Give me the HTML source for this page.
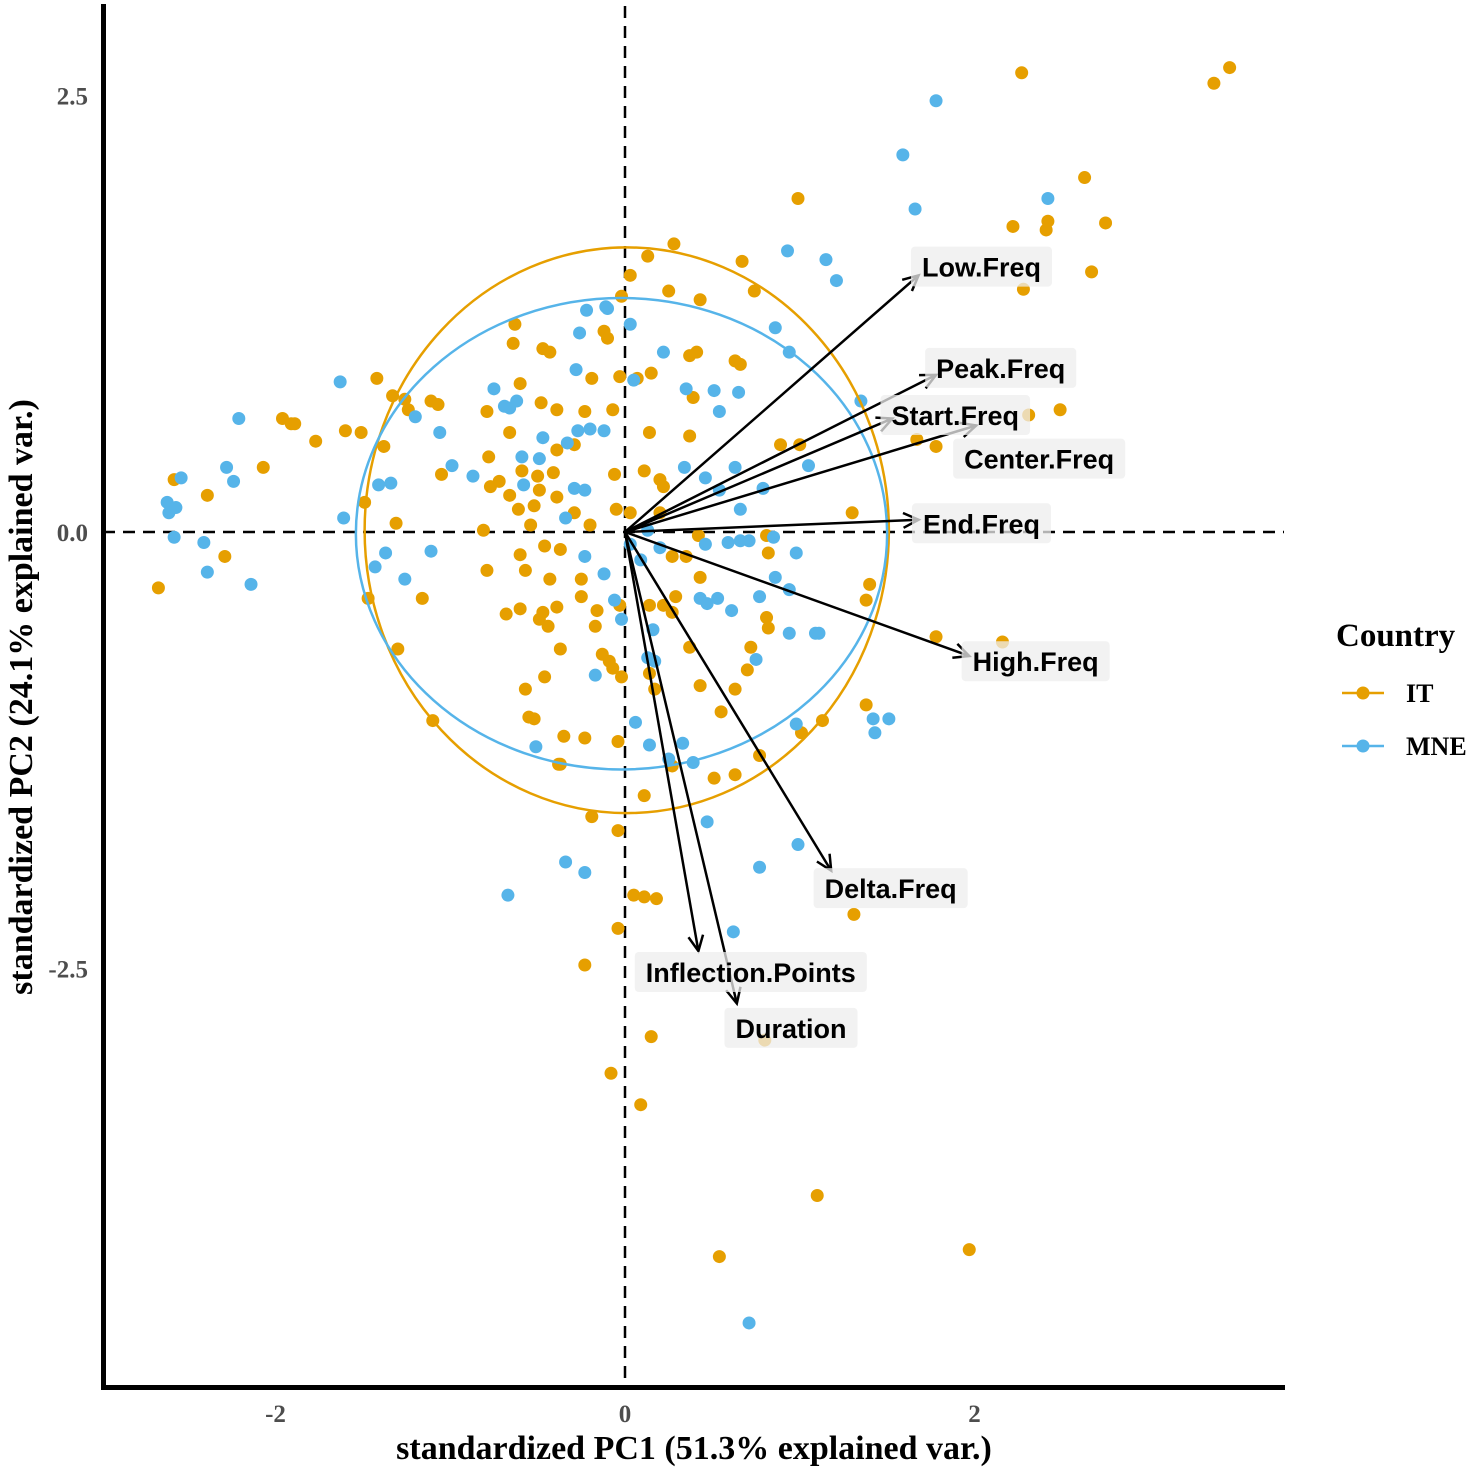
<!DOCTYPE html>
<html><head><meta charset="utf-8"><style>
html,body{margin:0;padding:0;background:#fff;}
svg{display:block;}
</style></head><body>
<svg id="chart" width="1472" height="1470" viewBox="0 0 1472 1470" xmlns="http://www.w3.org/2000/svg"></svg>
<script>
const itX=[3.46,3.37,2.27,2.63,2.75,2.42,2.22,2.41,2.67,2.28,0.99,2.49,2.31,1.67,1.78,1.30,1.40,1.38,1.78,2.16,1.38,1.13,1.01,1.31,0.80,1.10,1.97,0.54,0.09,-0.08,0.15,-0.23,-0.04,0.05,0.11,0.18,-0.04,-0.19,-0.38,-1.10,-1.30,-1.47,-1.16,-1.31,-2.67,-2.29,-2.39,-2.07,-2.58,-1.96,-1.91,-1.89,-1.77,-1.60,-1.51,-1.42,-1.33,-1.26,-1.24,-1.11,-1.07,-1.05,-1.49,-1.38,0.28,0.13,0.67,0.74,0.43,0.25,0.03,-0.02,-0.63,-0.64,-0.47,-0.43,-0.12,-0.10,-0.19,-0.03,0.07,0.15,0.37,0.41,0.63,0.66,0.39,0.37,0.14,0.11,0.20,0.22,-0.06,-0.07,-0.23,-0.39,-0.48,-0.60,-0.79,-0.66,-0.78,-0.77,-0.72,-0.59,-0.50,-0.41,-0.39,-0.29,-0.66,-0.61,-0.52,-0.49,-0.39,-0.29,-0.20,-0.05,0.03,0.20,-0.81,-0.54,-0.46,-0.37,-0.60,-0.57,-0.79,-0.43,-0.25,-0.25,-0.39,-0.47,-0.60,-0.68,-0.49,-0.44,-0.16,-0.17,-0.03,0.14,0.22,0.27,0.29,0.43,0.27,0.35,0.42,0.89,1.00,0.81,0.82,0.81,0.82,0.72,0.70,0.63,0.55,0.77,0.63,0.51,0.27,0.11,0.43,0.37,-0.13,-0.09,-0.07,-0.02,0.14,0.17,-0.57,-0.55,-0.52,-0.35,-0.23,-0.04,-0.37,-0.46,-0.37];
const itY=[2.66,2.57,2.63,2.03,1.77,1.78,1.75,1.73,1.49,1.39,1.91,0.70,0.67,0.53,0.49,0.11,-0.30,-0.39,-0.60,-0.63,-0.99,-1.08,-1.15,-2.19,-2.91,-3.80,-4.11,-4.15,-3.28,-3.10,-2.89,-2.48,-2.27,-2.08,-2.09,-2.10,-1.71,-1.63,-1.33,-1.08,-0.67,-0.38,-0.38,0.05,-0.32,-0.14,0.21,0.37,0.30,0.65,0.62,0.62,0.52,0.58,0.57,0.88,0.78,0.76,0.70,0.75,0.73,0.33,0.17,0.49,1.65,1.58,1.55,1.38,1.33,1.38,1.47,1.35,1.19,1.08,1.05,1.03,1.15,1.11,0.88,0.89,0.88,0.91,1.01,1.03,0.98,0.96,0.77,0.55,0.57,0.35,0.30,0.26,0.33,0.70,0.69,0.70,0.74,0.85,0.69,0.57,0.43,0.26,0.29,0.35,0.32,0.34,0.47,0.50,0.21,0.13,0.15,0.24,0.20,0.11,0.04,0.13,0.11,0.11,0.01,0.04,-0.08,-0.10,-0.13,-0.22,-0.22,-0.27,-0.27,-0.37,-0.43,-0.46,-0.44,-0.47,-0.50,-0.54,-0.45,-0.54,-0.42,-0.42,-0.42,-0.46,-0.37,-0.26,-0.14,-0.14,-0.02,0.50,0.50,-0.02,-0.12,-0.49,-0.55,-0.66,-0.79,-0.90,-1.03,-1.28,-1.39,-1.41,-1.34,-1.51,-0.88,-0.66,-0.70,-0.74,-0.78,-0.83,-0.81,-0.90,-0.90,-1.06,-1.07,-1.17,-1.18,-1.20,-1.33,-0.83,-0.67];
const mneX=[1.78,1.59,1.66,2.42,0.93,1.15,1.21,0.86,0.94,1.35,1.05,0.79,0.63,0.54,0.65,0.51,0.35,-0.11,-0.22,-0.26,0.03,-0.10,0.22,0.05,-0.28,-0.75,-0.69,-0.66,-0.62,-1.06,-0.87,-0.99,-0.58,-0.47,-0.33,-0.27,-0.20,-0.12,-0.59,-0.49,-0.23,-0.29,-0.34,-0.23,-0.12,-0.06,-0.02,0.13,0.20,0.46,0.59,0.66,0.71,0.85,0.98,0.94,0.86,0.77,0.61,0.53,0.43,0.47,0.16,0.13,0.17,0.06,0.14,0.25,0.39,0.33,0.47,0.75,0.94,1.09,1.11,0.98,1.42,1.51,1.43,0.99,0.77,0.62,0.71,-0.67,-0.34,-0.23,-0.17,-0.51,-1.11,-1.26,-1.43,-1.37,-1.34,-1.41,-1.61,-1.63,-2.21,-2.28,-2.24,-2.54,-2.62,-2.61,-2.57,-2.58,-2.41,-2.39,-2.14,-1.20,0.34,0.46,0.54,0.66,0.03,0.09];
const mneY=[2.47,2.16,1.85,1.91,1.61,1.56,1.44,1.17,1.03,0.75,0.38,0.25,0.37,0.69,0.80,0.81,0.82,1.29,1.27,1.14,1.19,1.28,1.03,0.87,0.93,0.82,0.72,0.71,0.75,0.57,0.32,0.38,0.27,0.54,0.51,0.58,0.59,0.58,0.43,0.42,0.24,0.25,0.08,-0.14,-0.24,-0.39,-0.50,0.01,-0.09,-0.07,-0.06,-0.05,-0.05,-0.03,-0.12,-0.33,-0.26,-0.37,-0.45,-0.38,-0.38,-0.41,-0.56,-0.72,-0.74,-1.09,-1.22,-1.30,-1.32,-1.21,-1.66,-0.73,-0.58,-0.58,-0.58,-1.10,-1.07,-1.07,-1.15,-1.79,-1.92,-2.29,-4.53,-2.08,-1.89,-1.95,-0.82,-1.23,-0.11,-0.27,-0.20,-0.12,0.28,0.27,0.08,0.86,0.65,0.37,0.29,0.31,0.17,0.11,0.14,-0.03,-0.06,-0.23,-0.30,0.66,0.37,0.31,0.24,0.13,-0.07,-0.16];
const arrowNames=["Low.Freq","Peak.Freq","Start.Freq","Center.Freq","End.Freq","High.Freq","Delta.Freq","Inflection.Points","Duration"];
const arrowX=[1.68,1.78,1.53,2.01,1.68,1.97,1.18,0.42,0.64];
const arrowY=[1.47,0.90,0.65,0.61,0.07,-0.71,-1.94,-2.40,-2.70];
const labelX=[2.04,2.15,1.89,2.37,2.04,2.35,1.52,0.72,0.95];
const labelY=[1.52,0.94,0.67,0.42,0.05,-0.74,-2.04,-2.52,-2.84];
const xTicks=[-2,0,2];
const xTickLabels=["-2","0","2"];
const yTicks=[-2.5,0,2.5];
const yTickLabels=["-2.5","0.0","2.5"];
const ellCx=[0.01,-0.02], ellCy=[0.01,-0.01], ellRx=[1.50,1.52], ellRy=[1.62,1.35];

const NS="http://www.w3.org/2000/svg";
const svg=document.getElementById('chart');
const X=v=>625+v*174.75;
const Y=v=>532-v*174.6;
function mk(tag,attrs,parent){const e=document.createElementNS(NS,tag);for(const k in attrs)e.setAttribute(k,attrs[k]);(parent||svg).appendChild(e);return e;}
const OR="#E69F00", BL="#56B4E9";

let e=mk('line',{x1:103,y1:532,x2:1284,y2:532,stroke:'#000','stroke-width':2.5,'stroke-dasharray':'12,8'});


e=mk('line',{x1:625,y1:6,x2:625,y2:1387,stroke:'#000','stroke-width':2.5,'stroke-dasharray':'12,8'});



const gPts=mk('g',{});


for(let i=0;i<itX.length;i++){
  const c=mk('circle',{cx:X(itX[i]),cy:Y(itY[i]),r:6.5,fill:OR},gPts);
  
  
}
for(let i=0;i<mneX.length;i++){
  const c=mk('circle',{cx:X(mneX[i]),cy:Y(mneY[i]),r:6.5,fill:BL},gPts);
  
  
}
const ecol=[OR,BL], enames=['ellipse-it','ellipse-mne'];
for(let i=0;i<2;i++){
  const el=mk('ellipse',{cx:X(ellCx[i]),cy:Y(ellCy[i]),rx:ellRx[i]*174.75,ry:ellRy[i]*174.6,fill:'none',stroke:ecol[i],'stroke-width':2.5});
  
  
}
for(let i=0;i<arrowX.length;i++){
  const x1=X(0),y1=Y(0),x2=X(arrowX[i]),y2=Y(arrowY[i]);
  const g=mk('g',{});
  
  
  mk('line',{x1:x1,y1:y1,x2:x2,y2:y2,stroke:'#000','stroke-width':2.5},g);
  const a=Math.atan2(y2-y1,x2-x1),L=17,s=0.45;
  const p1=[x2-L*Math.cos(a-s),y2-L*Math.sin(a-s)],p2=[x2-L*Math.cos(a+s),y2-L*Math.sin(a+s)];
  mk('polyline',{points:`${p1} ${x2},${y2} ${p2}`,fill:'none',stroke:'#000','stroke-width':2.5},g);
}
for(let i=0;i<arrowNames.length;i++){
  const cx=X(labelX[i]),cy=Y(labelY[i]);
  const g=mk('g',{});
  
  
  const t=mk('text',{x:cx,y:cy+10,'text-anchor':'middle','font-family':'"Liberation Sans",sans-serif','font-weight':'bold','font-size':27,fill:'#000'},g);
  t.textContent=arrowNames[i];
  const w=t.getComputedTextLength();
  const r=mk('rect',{x:cx-w/2-11,y:cy-20,width:w+22,height:40,rx:4,fill:'rgba(238,238,238,0.75)'},g);
  g.insertBefore(r,t);
}
e=mk('line',{x1:103.5,y1:4,x2:103.5,y2:1389,stroke:'#000','stroke-width':5});


e=mk('line',{x1:101,y1:1387.5,x2:1285,y2:1387.5,stroke:'#000','stroke-width':5});


const tf='"Liberation Serif",serif';
for(let i=0;i<xTicks.length;i++){
  const t=mk('text',{x:X(xTicks[i]),y:1422,'text-anchor':'middle','font-family':tf,'font-weight':'bold','font-size':25,fill:'#4d4d4d'});
  
  
  t.textContent=xTickLabels[i];
}
for(let i=0;i<yTicks.length;i++){
  const t=mk('text',{x:88,y:Y(yTicks[i])+9,'text-anchor':'end','font-family':tf,'font-weight':'bold','font-size':25,fill:'#4d4d4d'});
  
  
  t.textContent=yTickLabels[i];
}
let t=mk('text',{x:694,y:1459,'text-anchor':'middle','font-family':tf,'font-weight':'bold','font-size':34,fill:'#000'});


t.textContent='standardized PC1 (51.3% explained var.)';
t=mk('text',{x:0,y:0,'text-anchor':'middle','font-family':tf,'font-weight':'bold','font-size':34,fill:'#000',transform:'translate(32,697) rotate(-90)'});


t.textContent='standardized PC2 (24.1% explained var.)';
const lg=mk('g',{});


t=mk('text',{x:1336,y:646,'font-family':tf,'font-weight':'bold','font-size':33,fill:'#000'},lg);


t.textContent='Country';
const lnames=['IT','MNE'],lcols=[OR,BL],ly=[693,746];
for(let i=0;i<2;i++){
  const g=mk('g',{},lg);
  
  
  mk('line',{x1:1342,y1:ly[i],x2:1384,y2:ly[i],stroke:lcols[i],'stroke-width':2.5},g);
  mk('circle',{cx:1363,cy:ly[i],r:6.5,fill:lcols[i]},g);
  const tt=mk('text',{x:1406,y:ly[i]+9,'font-family':tf,'font-weight':'bold','font-size':26,fill:'#000'},g);
  tt.textContent=lnames[i];
}
</script>
</body></html>
